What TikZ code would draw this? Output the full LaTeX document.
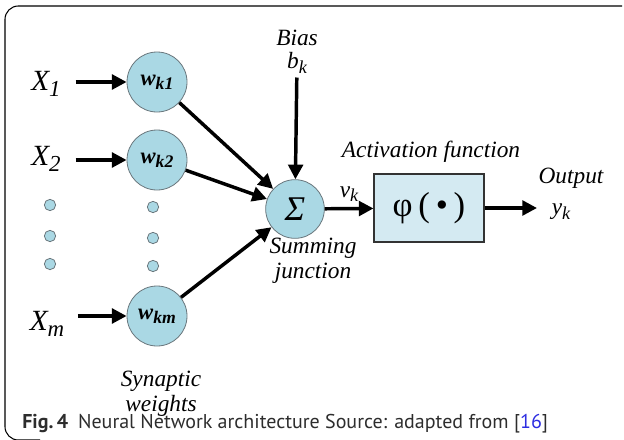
\documentclass[tikz,border=0pt]{standalone}
\usepackage{fontspec}
\setmainfont{Liberation Serif}
\newfontfamily\capfont{PT Sans}
\usetikzlibrary{arrows.meta}

\definecolor{cellblue}{RGB}{170,216,228}
\definecolor{boxblue}{RGB}{212,234,242}
\definecolor{rimgray}{RGB}{105,118,124}
\definecolor{captext}{RGB}{45,45,45}
\definecolor{refblue}{RGB}{45,45,225}
% lowered subscript in the current font
\newcommand{\low}[1]{\raisebox{-0.4ex}{\scalebox{0.78}{#1}}}

\begin{document}
\begin{tikzpicture}[x=0.75pt,y=-0.75pt,
    lbl/.style={font=\fontsize{17.5}{18.5}\selectfont\itshape,align=center,inner sep=1pt},
    inp/.style={font=\fontsize{22}{24}\selectfont\itshape,inner sep=1pt},
    weight/.style={circle,draw=rimgray,line width=0.6pt,fill=cellblue,
        minimum size=45pt,inner sep=0pt,font=\fontsize{17}{18}\selectfont\bfseries\itshape},
    dot/.style={circle,draw=rimgray,line width=0.6pt,fill=cellblue,minimum size=8.5pt,inner sep=0pt},
    arr/.style={-{Triangle[length=11pt,width=11pt]},line width=2.6pt}]
    \useasboundingbox (0,0) rectangle (624,439);

    % frame
    \draw[line width=0.8pt,rounded corners=10pt] (622,6) -- (5,6) -- (5,440) -- (40,440);

    % inputs
    \node[inp] (x1) at (46,84) {X\low{1}};
    \node[inp] (x2) at (46,159) {X\low{2}};
    \node[inp] (xm) at (47,324) {X\low{m}};

    % synaptic weights
    \node[weight] (wk1) at (157,82) {w\low{k1}};
    \node[weight] (wk2) at (157,160) {w\low{k2}};
    \node[weight] (wkm) at (157,316) {w\low{km}};

    \foreach \y [count=\i] in {205,236,264} {
        \node[dot] (dl\i) at (50,\y) {};
        \node[dot] (dr\i) at (153,\y+2) {};
    }

    \draw[arr,shorten <=10pt] (x1.east |- wk1) -- (wk1);
    \draw[arr,shorten <=10pt] (x2.east |- wk2) -- (wk2);
    \draw[arr,shorten <=9pt] (xm.east |- wkm) -- (wkm);

    % summing junction
    \node[weight,minimum size=44pt,font=\fontsize{26}{28}\selectfont\itshape] (sum) at (295,209) {Σ};
    \draw[arr] (wk1) -- (sum);
    \draw[arr] (wk2) -- (sum);
    \draw[arr] (wkm) -- (sum);

    \node[lbl] (bias) at (297,38) {Bias};
    \node[lbl] (bk) at (297,63) {b\low{k}};
    \draw[arr,shorten <=2pt] (bk) -- (sum);

    % activation
    \node[draw=black!80,line width=0.8pt,fill=boxblue,minimum width=82.5pt,minimum height=51pt,
        font=\fontsize{26}{28}\selectfont] (act) at (429,208) {φ\,(\,•\,)};
    \node[lbl] (actlbl) at (431,152) {Activation function};
    \draw[arr] (sum) -- (act) node[lbl,midway,above=3pt] (vk) {v\low{k}};

    \coordinate (out) at (537,208);
    \draw[arr] (act) -- (out);
    \node[lbl] (outlbl) at (571,178) {Output};
    \node[lbl] (yk) at (561,212) {y\low{k}};

    \node[lbl] (sumlbl) at (313,261) {Summing\\junction};
    \node[lbl] (synlbl) at (161,394) {Synaptic\\weights};

    % caption
    \node[anchor=west,inner sep=0pt,text=captext,font=\capfont\fontsize{15}{17}\selectfont] (cap) at (22,424)
        {\textbf{Fig.\,4}\enspace Neural Network architecture Source: adapted from [\textcolor{refblue}{16}]};
\end{tikzpicture}
\end{document}
